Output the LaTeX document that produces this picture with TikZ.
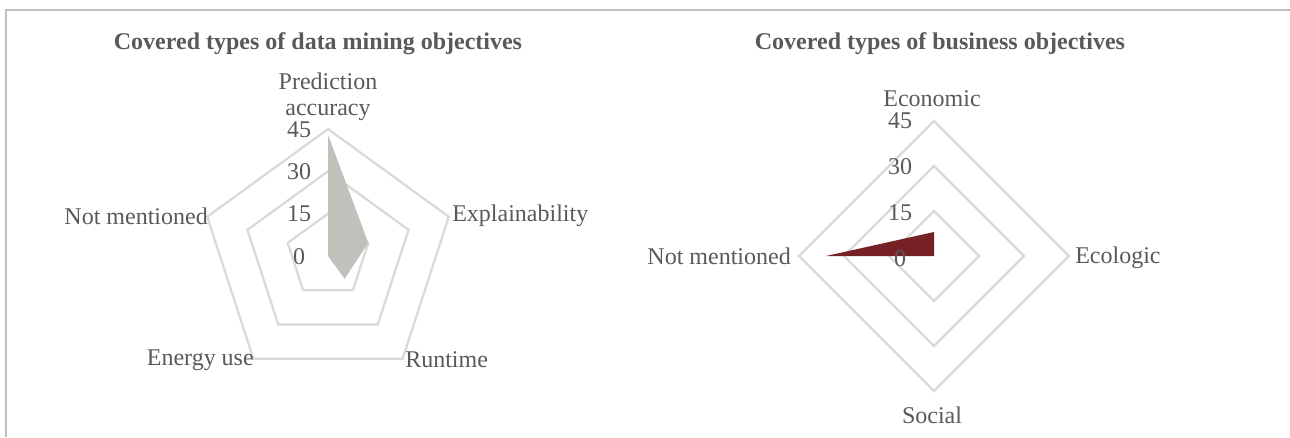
\documentclass[tikz,border=0pt]{standalone}
\usepackage{fontspec}
\setmainfont{Liberation Serif}
\usepackage{xcolor}
\definecolor{textgray}{RGB}{89, 89, 89}
\definecolor{gridgray}{RGB}{217, 217, 217}
\definecolor{framegray}{RGB}{191, 191, 191}
\definecolor{dmfill}{RGB}{191, 193, 187}
\definecolor{bofill}{RGB}{118, 33, 38}

\tikzset{
  grid/.style={draw=gridgray, line width=1.7pt, line join=miter},
  axislabel/.style={text=textgray, inner sep=0pt, font=\fontsize{18}{19.5}\selectfont},
  ticklabel/.style={text=textgray, inner sep=0pt, font=\fontsize{18}{19.5}\selectfont},
  charttitle/.style={text=textgray, inner sep=0pt, font=\fontsize{18}{19.5}\selectfont\bfseries}
}

\begin{document}
\begin{tikzpicture}[x=0.75pt, y=0.75pt]
    \useasboundingbox (0,0) rectangle (1290,437);

    % frame
    \draw[framegray, line width=1.5pt] (6,0) -- (6,427) -- (1290,427);

    % Titles
    \node[charttitle] (dmtitle) at (318,393) {Covered types of data mining objectives};
    \node[charttitle] (botitle) at (940,393) {Covered types of business objectives};

    % Data mining objectives
    \begin{scope}[shift={(328,181)}]
      \foreach \r in {42.33,84.67,127} {
          \draw[grid] (90:\r) \foreach \a in {18,-54,-126,162} { -- (\a:\r) } -- cycle;
        }

      % Values
      \fill[dmfill] (90:43*2.822) -- (18:15*2.822) -- (-54:10*2.822) -- (-126:0) -- (162:0) -- cycle;

      % Ticks
      \foreach \v/\y in {0/-1,15/42,30/84,45/126} {
          \node[ticklabel] (dmtick\v) at (-29,\y) {\v};
        }

      % Axis labels
      \node[axislabel, anchor=south, align=center] (dmpred) at (0,135) {Prediction\\accuracy};
      \node[axislabel, anchor=west] (dmexpl) at (124,40) {Explainability};
      \node[axislabel, anchor=west] (dmrun) at (77,-104) {Runtime};
      \node[axislabel, anchor=east] (dmenergy) at (-74,-104) {Energy use};
      \node[axislabel, anchor=east] (dmnone) at (-120,40) {Not mentioned};
    \end{scope}

    % Business objectives
    \begin{scope}[shift={(934,181)}]
      \foreach \r in {45,90,135} {
          \draw[grid] (90:\r) -- (0:\r) -- (-90:\r) -- (180:\r) -- cycle;
        }

      % Values
      \fill[bofill] (90:8*3) -- (0:0) -- (-90:0) -- (180:36*3) -- cycle;

      % Ticks
      \foreach \v/\y in {0/-3,15/43,30/89,45/135} {
          \node[ticklabel] (botick\v) at (-34,\y) {\v};
        }

      % Axis labels
      \node[axislabel] (boecon) at (-2,157) {Economic};
      \node[axislabel, anchor=west] (boeco) at (141,-2) {Ecologic};
      \node[axislabel] (bosoc) at (-2,-159) {Social};
      \node[axislabel, anchor=east] (bonone) at (-143,0) {Not mentioned};
    \end{scope}
  \end{tikzpicture}
\end{document}
